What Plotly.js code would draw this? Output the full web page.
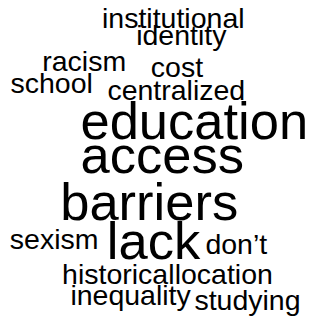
<!DOCTYPE html>
<html>
<head>
<meta charset="utf-8">
<script src="https://cdn.plot.ly/plotly-3.0.1.min.js"></script>
<style>html,body{margin:0;padding:0;background:#fff;}#chart{width:314px;height:324px;}</style>
</head>
<body>
<div id="chart"></div>
<script>
// Word cloud data: words and their frequencies
const words = ["institutional","identity","racism","cost","school","centralized","education","access","barriers","sexism","lack","don’t","historical","location","inequality","studying"];
const freqs = [1,1,1,1,1,1,3,3,3,1,3,1,1,1,1,1];

// Placement produced by the cloud layout (word centre x, baseline y, in pixels)
const placeX = [173.3,181.3,84.2,177,51.7,176.3,194.3,162.3,149.2,54.2,153.5,236.3,118.3,223.8,130.6,247.5];
const placeY = [27,43.5,70,76,91.5,98.5,140,174.5,221,247.5,260,253,283,283,303.5,309];

const minSize = 28.5, maxSize = 52.5;
const fMin = Math.min(...freqs), fMax = Math.max(...freqs);
const sizes = freqs.map(f => minSize + (maxSize - minSize) * (f - fMin) / (fMax - fMin));
// place each text so that its baseline lands on placeY
const yPts = placeY.map((b, i) => b - 0.35 * sizes[i] + 4);

const trace = {
  type: "scatter",
  mode: "text",
  x: placeX,
  y: yPts,
  text: words,
  textposition: "middle center",
  textfont: {family: "Liberation Sans, Arial, sans-serif", size: sizes, color: "#000000"},
  hoverinfo: "skip",
  showlegend: false
};

const layout = {
  width: 314, height: 324,
  margin: {l: 0, r: 0, t: 0, b: 0},
  paper_bgcolor: "#ffffff", plot_bgcolor: "#ffffff",
  xaxis: {range: [0, 314], visible: false, fixedrange: true},
  yaxis: {range: [324, 0], visible: false, fixedrange: true},
  showlegend: false
};

Plotly.newPlot("chart", [trace], layout, {staticPlot: true, displayModeBar: false});
</script>
</body>
</html>
